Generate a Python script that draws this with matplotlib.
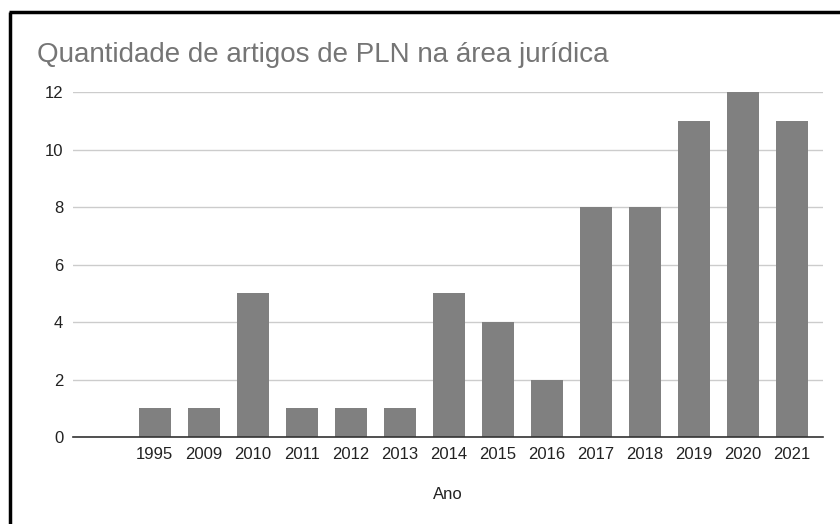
import matplotlib
matplotlib.use("Agg")
import matplotlib.pyplot as plt
from matplotlib.lines import Line2D

plt.rcParams['font.family'] = ['Liberation Sans', 'DejaVu Sans']

years = ["1995", "2009", "2010", "2011", "2012", "2013", "2014", "2015",
         "2016", "2017", "2018", "2019", "2020", "2021"]
counts = [1, 1, 5, 1, 1, 1, 5, 4, 2, 8, 8, 11, 12, 11]
yticks = [0, 2, 4, 6, 8, 10, 12]

W, H = 840, 524
fig = plt.figure(figsize=(W / 100, H / 100), dpi=100)
ax = fig.add_axes([73 / W, (H - 437) / H, (823 - 73) / W, (437 - 92) / H])

x = list(range(len(years)))
ax.bar(x, counts, width=0.65, color="#808080", zorder=3, clip_on=False)

ax.set_xlim(-1.67, 13.63)
ax.set_ylim(0, 12)
ax.set_yticks(yticks)
ax.set_yticklabels([str(v) for v in yticks])
ax.set_xticks(x)
ax.set_xticklabels(years)

for s in ["top", "right", "left"]:
    ax.spines[s].set_visible(False)
ax.spines["bottom"].set_color("#333333")
ax.spines["bottom"].set_linewidth(1.2)
ax.spines["bottom"].set_zorder(4)

ax.grid(axis="y", color="#cccccc", linewidth=1.0, zorder=0)
ax.tick_params(axis="both", length=0, labelsize=12, colors="#222222", pad=7)

ax.set_xlabel("Ano", fontsize=12, color="#222222", labelpad=18)

fig.text(37 / W, 1 - 62 / H, "Quantidade de artigos de PLN na área jurídica",
         fontsize=20, color="#757575", ha="left", va="baseline")

# partial black frame (top and left)
fig.add_artist(Line2D([10 / W, 10 / W], [0, 1 - 12 / H], transform=fig.transFigure,
                      color="black", linewidth=2.5, solid_capstyle="butt"))
fig.add_artist(Line2D([10 / W - 0.0015, 1], [1 - 12 / H, 1 - 12 / H], transform=fig.transFigure,
                      color="black", linewidth=2.5, solid_capstyle="butt"))

fig.savefig("out.png", dpi=100, facecolor="white")
